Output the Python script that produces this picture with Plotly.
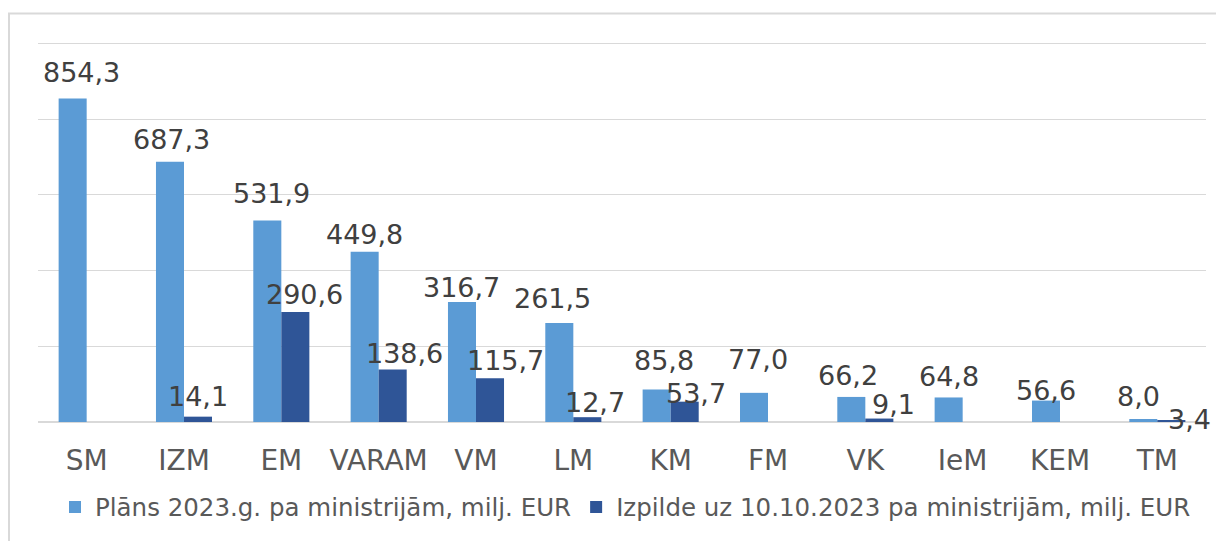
import plotly.graph_objects as go

categories = ["SM", "IZM", "EM", "VARAM", "VM", "LM", "KM", "FM", "VK", "IeM", "KEM", "TM"]
plan_2023 = [854.3, 687.3, 531.9, 449.8, 316.7, 261.5, 85.8, 77.0, 66.2, 64.8, 56.6, 8.0]
izpilde = [None, 14.1, 290.6, 138.6, 115.7, 12.7, 53.7, None, 9.1, None, None, 3.4]
series_names = ["Plāns 2023.g. pa ministrijām, milj. EUR",
                "Izpilde uz 10.10.2023 pa ministrijām, milj. EUR"]
series_colors = ["#5B9BD5", "#2F5597"]

# label nudges (pixels): horizontal shift, height of label centre above bar top
plan_label_dx = [8.5, 2, 4.5, 0, 0, -6.7, 7.8, 3.7, -2.9, 0, 0, -4.9]
plan_label_dy = [27.6, 24.4, 29.5, 19.1, 16.2, 26, 31, 35, 23.1, 23.1, 12.3, 24.7]
izp_label_dx = [0, 0, 9.2, 12, 15.7, 8, 11.3, 0, 14.2, 0, 0, 18]
izp_label_dy = [0, 21.8, 19.7, 18, 19.3, 16.5, 10.3, 0, 15.7, 0, 0, 3.3]

FONT = "DejaVu Sans"
# page body has an 8px margin; figure sized to fit the 1224x541 window
W, H = 1216, 533
ML, MR, MT, MB = 30, 18, 24.1, 117.3
BARGAP = 0.424

fig = go.Figure()
for name, vals, color in zip(series_names, [plan_2023, izpilde], series_colors):
    fig.add_trace(go.Bar(
        x=categories, y=vals, name=name,
        marker=dict(color=color, line=dict(width=0)),
    ))

pw = W - ML - MR
ph = H - MT - MB
bar_w = pw / len(categories) * (1 - BARGAP) / 2

def fmt(v):
    return f"{v:.1f}".replace(".", ",")

for vals, dxs, dys, side in [(plan_2023, plan_label_dx, plan_label_dy, -1),
                             (izpilde, izp_label_dx, izp_label_dy, 1)]:
    for cat, v, dx, dy in zip(categories, vals, dxs, dys):
        if v is None:
            continue
        fig.add_annotation(
            x=cat, y=v, xref="x", yref="y", text=fmt(v), showarrow=False,
            xanchor="center", yanchor="middle",
            xshift=side * bar_w / 2 + dx, yshift=dy - 2,
            font=dict(family=FONT, size=27, color="#404040"),
        )

fig.add_shape(type="rect", xref="paper", yref="paper",
              x0=-(ML - 1) / pw, x1=1.1, y0=-0.6, y1=(H - MB - 5.5) / ph,
              line=dict(color="#D9D9D9", width=2), fillcolor="rgba(0,0,0,0)", layer="below")

fig.update_layout(
    width=W, height=H,
    margin=dict(l=ML, r=MR, t=MT, b=MB, pad=0),
    paper_bgcolor="white", plot_bgcolor="white",
    barmode="group", bargap=BARGAP, bargroupgap=0,
    showlegend=True,
    legend=dict(orientation="h", x=0.503, xanchor="center", y=-(501 - (H - MB)) / ph,
                yanchor="middle",
                font=dict(family=FONT, size=24.5, color="#595959"), bgcolor="rgba(0,0,0,0)"),
    xaxis=dict(type="category", range=[-0.5, len(categories) - 0.5], autorange=False,
               automargin=False, showgrid=False, showline=False, ticks="",
               ticklabelstandoff=19,
               tickfont=dict(family=FONT, size=28, color="#595959")),
    yaxis=dict(range=[0, 1030], autorange=False, automargin=False,
               tickvals=[0, 200, 400, 600, 800, 1000], showticklabels=False,
               showgrid=True, gridcolor="#D9D9D9", gridwidth=1.3, zeroline=True,
               zerolinecolor="#D9D9D9", zerolinewidth=1.5, showline=False, ticks=""),
)

fig.write_html("out.html")
